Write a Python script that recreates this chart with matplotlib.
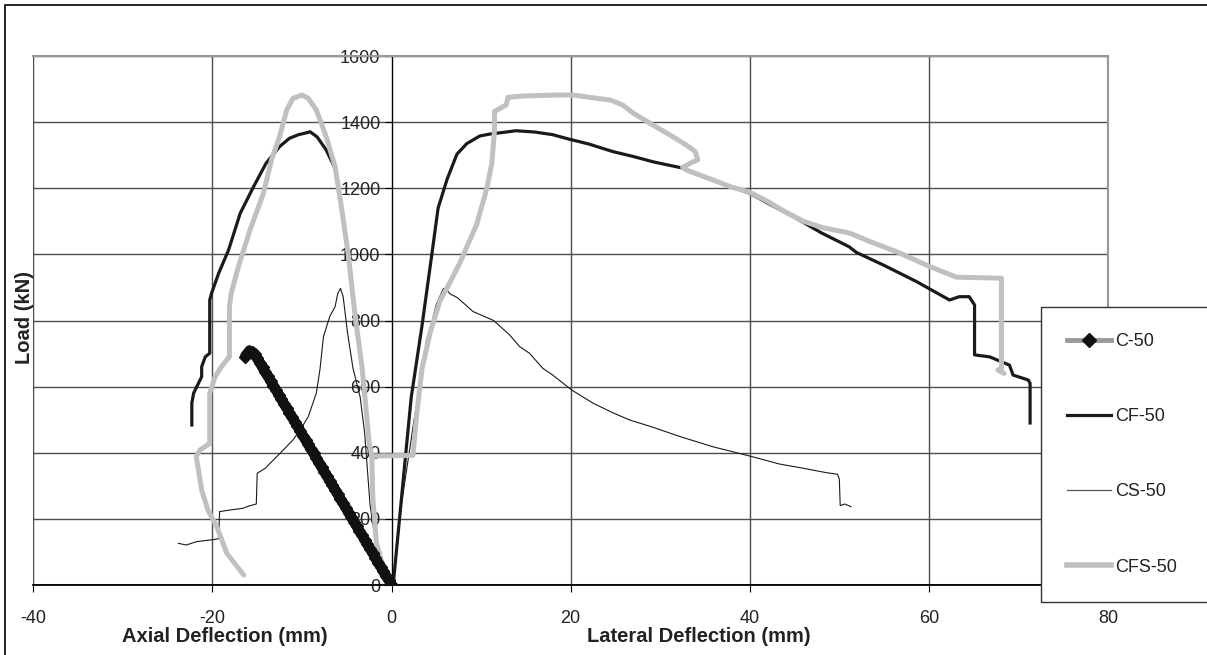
import matplotlib
matplotlib.use('Agg')
import matplotlib.pyplot as plt
from matplotlib.lines import Line2D
from matplotlib.patches import Rectangle
import numpy as np

plt.rcParams['font.family'] = ['Liberation Sans', 'DejaVu Sans']
plt.rcParams['axes.unicode_minus'] = False

# ---------------- data ----------------
x_ticks = [-40, -20, 0, 20, 40, 60, 80]
y_ticks = [0, 200, 400, 600, 800, 1000, 1200, 1400, 1600]

c50_x = [0.0, -0.3, -0.6, -0.9, -1.2, -1.5, -1.8, -2.1, -2.4, -2.7,
         -3.0, -3.3, -3.6, -3.9, -4.2, -4.5, -4.8, -5.1, -5.4, -5.7,
         -6.0, -6.3, -6.6, -6.9, -7.2, -7.5, -7.8, -8.1, -8.4, -8.7,
         -9.0, -9.3, -9.6, -9.9, -10.2, -10.5, -10.8, -11.1, -11.4, -11.7,
         -12.0, -12.3, -12.6, -12.9, -13.2, -13.5, -13.8, -14.1, -14.4, -14.7,
         -15.0, -15.3, -15.6, -15.9, -16.2, -16.4]
c50_y = [0, 14, 27, 41, 55, 68, 82, 96, 110, 123,
         137, 151, 164, 178, 192, 206, 219, 233, 247, 260,
         274, 288, 302, 315, 329, 343, 356, 370, 384, 398,
         411, 425, 439, 452, 466, 480, 494, 507, 521, 535,
         548, 562, 576, 590, 603, 617, 631, 644, 658, 672,
         686, 699, 706, 707, 697, 690]

cf_x = [-22.3, -22.3, -22.1, -21.2, -21.2, -20.8, -20.3, -20.3, -20.1, -19.3,
        -18.2, -16.9, -15.4, -14.0, -12.5, -11.4, -10.4, -9.45, -9.1, -8.3,
        -7.3, -6.3, -5.6, -4.8, -4.1, -3.3, -2.8, -2.5, -2.2, -2.1,
        -1.7, -1.0, 0.0, 0.2, 0.93, 1.5, 2.2, 3.4, 4.5, 5.2,
        6.2, 7.3, 8.4, 9.85, 11.0, 12.5, 13.9, 16.0, 18.0, 19.9,
        22.0, 24.7, 27.0, 29.2, 32.5, 35.0, 37.8, 40.0, 42.0, 45.0,
        48.0, 51.1, 51.9, 54.9, 58.6, 62.3, 63.4, 64.5, 65.1, 65.1,
        66.8, 69.0, 69.4, 71.1, 71.3, 71.3]
cf_y = [484, 550, 580, 630, 660, 690, 701, 862, 882, 943,
        1013, 1124, 1205, 1276, 1326, 1351, 1362, 1368, 1371, 1355,
        1316, 1260, 1144, 993, 822, 660, 519, 430, 390, 270,
        130, 60, 0, 5, 211, 373, 568, 784, 1000, 1140,
        1227, 1303, 1335, 1358, 1364, 1369, 1374, 1370, 1362, 1348,
        1334, 1311, 1296, 1280, 1261, 1235, 1205, 1185, 1155, 1112,
        1065, 1023, 1006, 968, 918, 862, 872, 872, 847, 696,
        690, 665, 635, 620, 610, 490]

cs_x = [-23.8, -22.9, -21.8, -19.7, -19.3, -19.2, -18.0, -16.6, -15.9, -15.1,
        -15.0, -14.1, -13.2, -12.1, -11.0, -10.2, -9.3, -8.4, -8.0, -7.6,
        -6.9, -6.3, -6.0, -5.7, -5.4, -4.9, -4.3, -3.5, -3.0, -2.4,
        -1.7, -0.8, 0.0, 0.37, 0.93, 1.7, 2.6, 3.4, 3.9, 4.5,
        5.0, 5.8, 6.2, 6.5, 7.3, 8.2, 9.1, 10.3, 11.4, 13.2,
        14.3, 15.4, 16.9, 18.0, 20.1, 22.5, 24.7, 26.6, 29.2, 32.2,
        35.9, 40.0, 43.3, 46.0, 48.5, 49.8, 50.0, 50.1, 50.6, 51.3]
cs_y = [126, 121, 131, 138, 140, 222, 227, 232, 239, 245,
        338, 353, 378, 408, 439, 469, 509, 580, 650, 751,
        812, 842, 882, 897, 872, 760, 655, 568, 459, 243,
        114, 40, 0, 49, 211, 351, 514, 622, 741, 795,
        849, 897, 892, 881, 870, 849, 827, 813, 800, 756,
        721, 701, 655, 635, 590, 550, 521, 499, 477, 449,
        418, 390, 366, 353, 340, 335, 320, 240, 245, 237]

cfs_x = [-16.5, -18.4, -19.5, -20.5, -21.2, -21.8, -21.4, -20.3, -20.3, -19.7,
         -19.0, -18.1, -18.1, -17.9, -17.1, -15.8, -14.3, -13.4, -12.5, -11.7,
         -11.0, -10.0, -9.3, -8.4, -7.3, -6.3, -5.6, -4.8, -4.1, -3.3,
         -2.8, -2.5, -2.2, -2.1, -1.7, -1.0, -0.2, 0.0, np.nan,
         -2.2, 2.4, 2.8, 3.4, 4.3, 5.4, 6.5, 7.7, 8.4, 9.5,
         10.6, 11.2, 11.5, 11.5, 12.8, 13.0, 14.7, 18.4, 20.3, 22.1,
         24.4, 25.8, 27.0, 29.2, 31.4, 32.9, 33.9, 34.2, 33.3, 32.5,
         33.1, 35.9, 37.8, 40.0, 42.0, 44.0, 46.0, 48.0, 51.2, 53.4,
         56.4, 60.1, 63.1, 68.1, 68.1, 67.7, 68.4]
cfs_y = [30, 96, 176, 227, 287, 388, 408, 428, 580, 630,
         660, 691, 842, 882, 963, 1074, 1185, 1286, 1356, 1437,
         1472, 1482, 1472, 1437, 1356, 1265, 1144, 993, 822, 660,
         519, 430, 390, 270, 130, 60, 15, 0, np.nan,
         390, 392, 513, 654, 762, 859, 914, 978, 1022, 1090,
         1195, 1275, 1376, 1432, 1452, 1475, 1479, 1482, 1482, 1475,
         1467, 1452, 1427, 1391, 1356, 1331, 1311, 1286, 1275, 1263,
         1253, 1225, 1205, 1188, 1160, 1128, 1100, 1082, 1064, 1039,
         1008, 963, 931, 928, 655, 650, 640]

labels = ['C-50', 'CF-50', 'CS-50', 'CFS-50']

# ---------------- figure ----------------
W, H = 1207, 655
fig = plt.figure(figsize=(W / 100, H / 100), dpi=100)
fig.patch.set_facecolor('white')

# outer chart frame (right/bottom edges fall outside the picture)
fig.patches.append(Rectangle((5 / W, -0.1), 1.2, 1 - 5 / H + 0.1,
                             transform=fig.transFigure, fill=False,
                             ec='black', lw=1.2))

ax = fig.add_axes([33.3 / W, 1 - 585 / H, (1108 - 33.3) / W, (585 - 56) / H])
ax.set_xlim(-40, 80)
ax.set_ylim(0, 1600)
ax.set_xticks(x_ticks)
ax.set_yticks(y_ticks)
ax.set_xticklabels([str(v) for v in x_ticks])
ax.set_yticklabels([str(v) for v in y_ticks])

ax.set_axisbelow(True)
ax.grid(True, color='#4d4d4d', lw=1.0)

for s in ['top', 'right']:
    ax.spines[s].set_color('#999999')
    ax.spines[s].set_linewidth(1.5)
ax.spines['left'].set_position(('data', 0))
ax.spines['left'].set_color('black')
ax.spines['bottom'].set_color('black')
ax.spines['bottom'].set_linewidth(1.3)
# plot-area left border
ax.add_patch(Rectangle((0, 0), 1, 1, transform=ax.transAxes, fill=False,
                       ec='#999999', lw=1.5, zorder=0.5))

ax.tick_params(axis='both', direction='out', length=5, color='black',
               labelsize=13, labelcolor='#222222')
ax.tick_params(axis='y', pad=3)
ax.tick_params(axis='x', pad=13)

# series
ax.plot(cf_x, cf_y, color='#1a1a1a', lw=2.3, zorder=3)
ax.plot(cs_x, cs_y, color='#1a1a1a', lw=0.8, zorder=4)
ax.plot(cfs_x, cfs_y, color='#c0c0c0', lw=3.6, zorder=5,
        solid_joinstyle='round', solid_capstyle='round')
# C-50: dense black diamond markers merge into a solid band
ax.plot(c50_x, c50_y, color='#111111', lw=7.5, marker='D', ms=6,
        mfc='#111111', mec='#111111', zorder=6,
        solid_joinstyle='miter', solid_capstyle='butt')

# axis titles
fig.text(225 / W, 1 - 637 / H, 'Axial Deflection (mm)', ha='center', va='center',
         fontsize=14.5, fontweight='bold', color='#222222')
fig.text(699 / W, 1 - 637 / H, 'Lateral Deflection (mm)', ha='center', va='center',
         fontsize=14.5, fontweight='bold', color='#222222')
fig.text(24 / W, 1 - 318 / H, 'Load (kN)', ha='center', va='center', rotation=90,
         fontsize=14.5, fontweight='bold', color='#222222')

# legend box (extends beyond the right edge of the picture)
fig.patches.append(Rectangle((1041 / W, 1 - 602 / H), 200 / W, (602 - 307) / H,
                             transform=fig.transFigure, fc='white',
                             ec='#333333', lw=1.0, zorder=10))
handles = [
    Line2D([], [], color='#999999', lw=3.5, marker='D', ms=7, mfc='#111111', mec='#111111'),
    Line2D([], [], color='#1a1a1a', lw=2.3),
    Line2D([], [], color='#555555', lw=0.9),
    Line2D([], [], color='#c0c0c0', lw=4),
]
leg = fig.legend(handles, labels, loc='upper left',
                 bbox_to_anchor=(1041 / W, 1 - 307 / H),
                 frameon=False,
                 fontsize=13, labelspacing=3.22, handlelength=2.4,
                 handletextpad=0.25, borderpad=1.45, borderaxespad=0)
leg.set_zorder(11)
for t in leg.get_texts():
    t.set_color('#222222')

fig.savefig('out.png', dpi=100)
